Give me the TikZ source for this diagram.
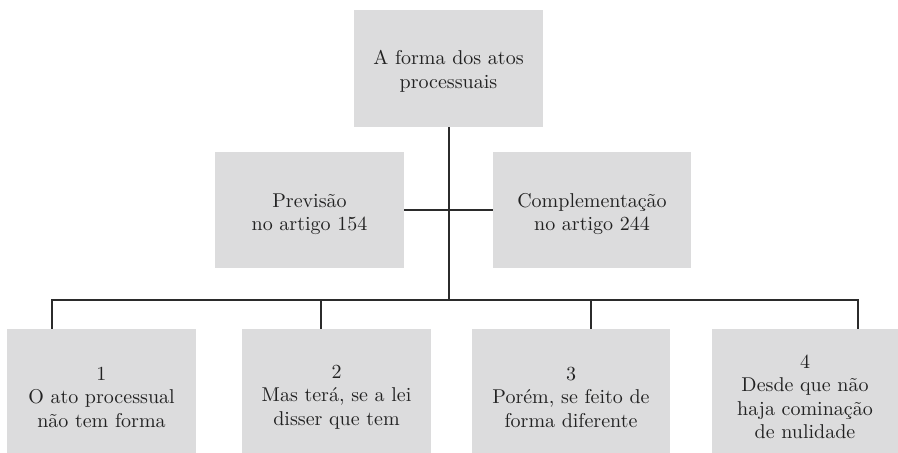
\documentclass[tikz,border=0pt]{standalone}
\usepackage{fontspec}
\setmainfont{lmroman10-regular.otf}
\begin{document}
\begin{tikzpicture}[x=1pt,y=-1pt,
  boxnode/.style={fill=boxgray, draw=none, inner sep=0pt},
  txt/.style={align=center, inner sep=0pt, text=textgray,
    font=\fontsize{20}{23.5}\selectfont},
  conn/.style={draw=linegray, line width=2pt}]
\definecolor{boxgray}{HTML}{DCDCDD}
\definecolor{linegray}{HTML}{2B2B2B}
\definecolor{textgray}{HTML}{222222}
\useasboundingbox (0,0) rectangle (898,453);
\node[boxnode, minimum width=189pt, minimum height=117pt] (top) at (448.5,68.5) {};
\node[boxnode, minimum width=189pt, minimum height=116pt] (prev) at (309.5,210) {};
\node[boxnode, minimum width=198pt, minimum height=116pt] (comp) at (592,210) {};
\node[boxnode, minimum width=189pt, minimum height=124pt] (b1) at (101.5,391) {};
\node[boxnode, minimum width=189pt, minimum height=124pt] (b2) at (336.5,391) {};
\node[boxnode, minimum width=198pt, minimum height=124pt] (b3) at (571,391) {};
\node[boxnode, minimum width=186pt, minimum height=124pt] (b4) at (805,391) {};
\node[txt] (ttop) at ([yshift=-3pt]top.center) {A forma dos atos\\processuais};
\node[txt] (tprev) at ([yshift=-4pt]prev.center) {Previsão\\no artigo 154};
\node[txt] (tcomp) at ([yshift=-4pt]comp.center) {Complementação\\no artigo 244};
\node[txt] (t1) at ([yshift=-6pt]b1.center) {1\\O ato processual\\não tem forma};
\node[txt] (t2) at ([yshift=-6pt]b2.center) {2\\Mas terá, se a lei\\disser que tem};
\node[txt] (t3) at ([yshift=-6pt]b3.center) {3\\Porém, se feito de\\forma diferente};
\node[txt] (t4) at ([yshift=-6pt]b4.center) {4\\Desde que não\\haja cominação\\de nulidade};
\coordinate (d1) at (52,300);
\coordinate (d2) at (321,300);
\coordinate (d3) at (591,300);
\coordinate (d4) at (858,300);
\draw[conn] (top.south) -- (top.south |- d1);
\draw[conn] (prev.east) -- (comp.west);
\draw[conn] (d1 |- b1.north) -- (d1) -- (d4) -- (d4 |- b4.north);
\draw[conn] (d2) -- (d2 |- b2.north);
\draw[conn] (d3) -- (d3 |- b3.north);
\end{tikzpicture}
\end{document}
